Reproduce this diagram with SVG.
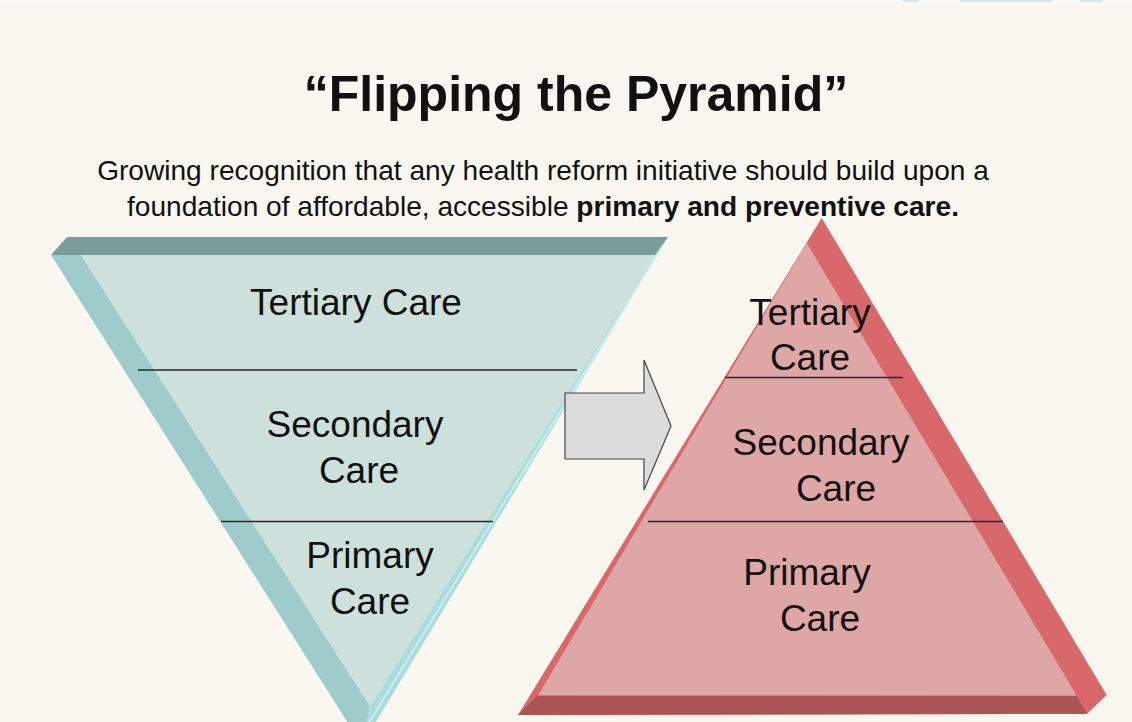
<svg xmlns="http://www.w3.org/2000/svg" width="1132" height="722" viewBox="0 0 1132 722">
<defs>
<style>
.t{font-family:"Liberation Sans",Arial,sans-serif;fill:#111;text-anchor:middle}
.lbl{font-size:37px}
.div{stroke:#2a2a2a;stroke-width:1.5}
</style>
</defs>
<rect width="1132" height="722" fill="#faf7f1"/>
<rect x="0" y="0" width="1132" height="2" fill="#fdfcfa"/>
<rect x="903" y="0" width="15" height="2" fill="#d6e4ee"/>
<rect x="960" y="0" width="93" height="2" fill="#d6e4ee"/>
<rect x="1080" y="0" width="22" height="2" fill="#d6e4ee"/>

<text class="t" x="576" y="111" font-size="50" font-weight="bold">“Flipping the Pyramid”</text>
<text class="t" x="543" y="180" font-size="28.1" fill="#222">Growing recognition that any health reform initiative should build upon a</text>
<text class="t" x="543" y="216" font-size="28.1" fill="#222">foundation of affordable, accessible <tspan font-weight="bold">primary and preventive care.</tspan></text>

<g id="inverted-pyramid">
<polygon points="51,255 81,255 370,706 362,745" fill="#9ecbcb"/>
<polygon points="655,255 668,237 362,745 370,706" fill="#abdcdc"/>
<line x1="664" y1="243" x2="368" y2="724" stroke="#c8eeee" stroke-width="2"/>
<polygon points="67,237 668,237 655,255 51,255" fill="#7a9c9b"/>
<polygon points="81,255 655,255 370,706" fill="#cde0dc"/>
<line class="div" x1="138" y1="370" x2="577" y2="370"/>
<line class="div" x1="221" y1="521.5" x2="493" y2="521.5"/>
<text class="t lbl" x="356" y="315">Tertiary Care</text>
<text class="t lbl" x="355" y="437">Secondary</text>
<text class="t lbl" x="359" y="483">Care</text>
<text class="t lbl" x="370" y="568">Primary</text>
<text class="t lbl" x="370" y="614">Care</text>
</g>

<g id="connectors">
<polygon points="565,393 644,393 644,360 671,426 644,490 644,459 565,459" fill="#dcdcdc" stroke="#444" stroke-width="1.2"/>
</g>

<g id="pyramid">
<polygon points="821.7,218 1106.7,695 1087,714 518,715" fill="#d8686c"/>
<polygon points="538,695 1076.7,696 1087,714 518,715" fill="#a95455"/>
<polygon points="806.7,243 1076.7,695.5 538,695.5" fill="#dfa6a6"/>
<line class="div" x1="725" y1="377.5" x2="903" y2="377.5"/>
<line class="div" x1="648" y1="521.5" x2="1003" y2="521.5"/>
<text class="t lbl" x="810" y="325">Tertiary</text>
<text class="t lbl" x="810" y="370">Care</text>
<text class="t lbl" x="821" y="455">Secondary</text>
<text class="t lbl" x="836" y="501">Care</text>
<text class="t lbl" x="807" y="585">Primary</text>
<text class="t lbl" x="820" y="631">Care</text>
</g>
</svg>
